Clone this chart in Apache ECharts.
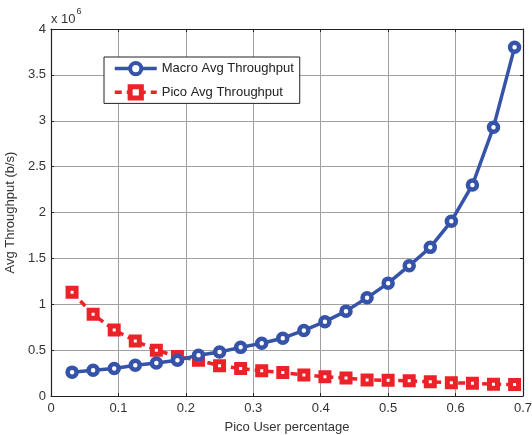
<!DOCTYPE html>
<html><head><meta charset="utf-8">
<script src="https://cdn.jsdelivr.net/npm/echarts@6/dist/echarts.min.js"></script>
<style>html,body{margin:0;padding:0;background:#fff}#c{width:532px;height:435px}</style>
</head><body><div id="c"></div>
<script>
// x positions (fraction of pico users)
const xValues = [0.03125,0.0625,0.09375,0.125,0.15625,0.1875,0.21875,0.25,0.28125,0.3125,0.34375,0.375,0.40625,0.4375,0.46875,0.5,0.53125,0.5625,0.59375,0.625,0.65625,0.6875];
// throughput values in units of 10^6 b/s
const macroAvg = [0.26,0.28,0.30,0.335,0.36,0.39,0.445,0.48,0.53,0.575,0.63,0.715,0.81,0.925,1.07,1.23,1.42,1.62,1.905,2.30,2.93,3.80];
const picoAvg  = [1.13,0.89,0.72,0.60,0.50,0.43,0.39,0.33,0.30,0.275,0.255,0.23,0.21,0.195,0.175,0.172,0.165,0.155,0.145,0.138,0.128,0.125];
const seriesNames = ['Macro Avg Throughput','Pico Avg Throughput'];
const xTitle = 'Pico User percentage';
const yTitle = 'Avg Throughput (b/s)';

const FONT = 'Liberation Sans';
const BLUE = '#3553a8', RED = '#ec2229';
const chart = echarts.init(document.getElementById('c'), null, {renderer:'canvas'});
const pair = (xs, ys) => xs.map((x,i)=>[x, ys[i]]);
const axisCommon = {
  axisLine:{show:true,onZero:false,lineStyle:{color:'#222',width:1.2}},
  axisTick:{show:true,inside:true,length:3,lineStyle:{color:'#222'}},
  axisLabel:{color:'#333',fontFamily:FONT,fontSize:13},
};
chart.setOption({
  animation:false,
  backgroundColor:'#fff',
  grid:{left:51,right:9,top:29,bottom:39,containLabel:false,outerBoundsMode:'none'},
  xAxis:[
    Object.assign({type:'value',min:0,max:0.7,interval:0.1,position:'bottom',
      name:xTitle,nameLocation:'middle',nameGap:25,
      nameTextStyle:{color:'#333',fontFamily:FONT,fontSize:13},
      splitLine:{show:true,lineStyle:{color:'#a0a0a0',width:1}}},axisCommon,
      {axisLabel:{color:'#333',fontFamily:FONT,fontSize:13,margin:6}}),
    Object.assign({type:'value',min:0,max:0.7,interval:0.1,position:'top',
      splitLine:{show:false}},axisCommon,{axisLabel:{show:false}})
  ],
  yAxis:[
    Object.assign({type:'value',min:0,max:4,interval:0.5,position:'left',
      name:yTitle,nameLocation:'middle',nameGap:29,
      nameTextStyle:{color:'#333',fontFamily:FONT,fontSize:13},
      splitLine:{show:true,lineStyle:{color:'#a0a0a0',width:1}}},axisCommon,
      {axisLabel:{color:'#333',fontFamily:FONT,fontSize:13,margin:5}}),
    Object.assign({type:'value',min:0,max:4,interval:0.5,position:'right',
      splitLine:{show:false}},axisCommon,{axisLabel:{show:false}})
  ],
  legend:{
    left:104,top:57,orient:'vertical',
    backgroundColor:'#fff',borderColor:'#222',borderWidth:1,borderRadius:0,
    padding:[4,6,3,9],itemGap:8,itemWidth:42,itemHeight:14,
    textStyle:{color:'#222',fontFamily:FONT,fontSize:13},
    data:[
      {name:seriesNames[0],itemStyle:{color:'#fff',borderColor:BLUE,borderWidth:4},lineStyle:{width:3.5}},
      {name:seriesNames[1],itemStyle:{color:'#fff',borderColor:RED,borderWidth:5},lineStyle:{width:3.5}}
    ]
  },
  graphic:[{
    type:'text',left:51,top:7,
    style:{text:'{a|x 10}{b|6}',rich:{
      a:{fontFamily:FONT,fontSize:13,fill:'#333',verticalAlign:'bottom',padding:[6,0,0,0]},
      b:{fontFamily:FONT,fontSize:9,fill:'#333',verticalAlign:'top',padding:[0,0,6,1]}}}
  }],
  series:[
    {name:seriesNames[0],type:'line',data:pair(xValues,macroAvg),
      symbol:'circle',symbolSize:9,
      lineStyle:{color:BLUE,width:3.5},
      itemStyle:{color:'#fff',borderColor:BLUE,borderWidth:4.5},
      z:3},
    {name:seriesNames[1],type:'line',data:pair(xValues,picoAvg),
      symbol:'rect',symbolSize:8,
      lineStyle:{color:RED,width:3.5,type:[7,5]},
      itemStyle:{color:'#fff',borderColor:RED,borderWidth:5},
      z:2}
  ]
});
</script></body></html>
